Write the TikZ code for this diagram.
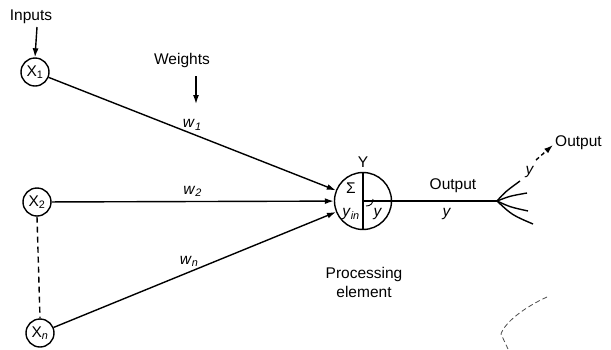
\documentclass[tikz,border=0pt]{standalone}
\usepackage{fontspec}
\setmainfont{Liberation Sans}
\usetikzlibrary{arrows.meta}
\begin{document}
\begin{tikzpicture}[x=1pt,y=-1pt,
  every node/.style={font=\fontsize{15.5}{17}\selectfont, inner sep=0pt},
  inp/.style={circle, draw, line width=1.4pt, minimum size=28pt},
  proc/.style={circle, draw, line width=1.4pt, minimum size=57pt},
  wire/.style={line width=1.4pt},
  arr/.style={line width=1.4pt, -{Latex[length=9pt,width=6pt]}},
  lbl/.style={font=\fontsize{15.5}{17}\selectfont}]
\useasboundingbox (0,0) rectangle (611,349);
% inputs
\node[inp] (x1) at (35,72) {X\textsubscript{1}};
\node[inp] (x2) at (37,202) {X\textsubscript{2}};
\node[inp] (xn) at (40,333) {X\textsubscript{\textit{n}}};
\node[lbl] (inputs) at (31,17) {Inputs};
\draw[arr] (37,27) -- (x1.north);
\draw[wire, dashed, dash pattern=on 6pt off 4pt] (x2.south) -- (xn.north);
% weights
\node[lbl] (weights) at (182,60) {Weights};
\coordinate (wtop) at (196,76);
\coordinate (wtip) at (196,104);
\draw[arr] (wtop) -- (wtip);
% processing element
\node[proc] (P) at (363,201) {};
\draw[arr] (x1) -- (P) node[pos=0.5, above=3pt, lbl] (w1) {\textit{w}\textsubscript{\textit{1}}};
\draw[arr] (x2) -- (P) node[pos=0.5, above=4pt, lbl] (w2) {\textit{w}\textsubscript{\textit{2}}};
\draw[arr] (xn) -- (P) node[pos=0.48, above=5pt, lbl] (wn) {\textit{w}\textsubscript{\textit{n}}};
\draw[wire] (P.north) -- (P.south);
\node[lbl] (Y) at (363,162) {Y};
\node[lbl] (sig) at (351,188) {Σ};
\node[lbl] (yin) at (351,214) {\textit{y}\textsubscript{\textit{in}}};
\node[lbl] (yo) at (378,214) {\textit{y}};
\draw[line width=0.9pt] (366,206) .. controls (371,206) and (373,203) .. (373,199);
\node[lbl, align=center] (pe) at (364,282) {Processing\\[2pt]element};
% output
\coordinate (br) at (497,201);
\draw[wire] (P.center) -- (br);
\node[lbl] (out1) at (453,186) {Output};
\node[lbl] (y1) at (447,214) {\textit{y}};
\coordinate (b1) at (520,181);
\coordinate (b2) at (527,193);
\coordinate (b3) at (528,211);
\coordinate (b4) at (533,224);
\draw[wire] (br) .. controls (505,192) .. (b1);
\draw[wire] (br) .. controls (510,196) .. (b2);
\draw[wire] (br) .. controls (510,207) .. (b3);
\draw[wire] (br) .. controls (512,215) .. (b4);
\node[lbl] (y2) at (530,172) {\textit{y}};
\coordinate (da) at (536,160);
\coordinate (db) at (553,145);
\draw[wire, dashed, dash pattern=on 4pt off 3pt, -{Latex[length=9pt,width=6pt]}] (da) -- (db);
\node[lbl, anchor=west] (out2) at (555,143) {Output};
% faint dashed arc (bottom right)
\coordinate (c1) at (547,297);
\coordinate (c2) at (501,334);
\coordinate (c3) at (508,349);
\draw[line width=0.8pt, dashed, dash pattern=on 5pt off 3pt, black!70] (c1) .. controls (525,307) and (505,322) .. (c2) -- (c3);
\end{tikzpicture}
\end{document}
